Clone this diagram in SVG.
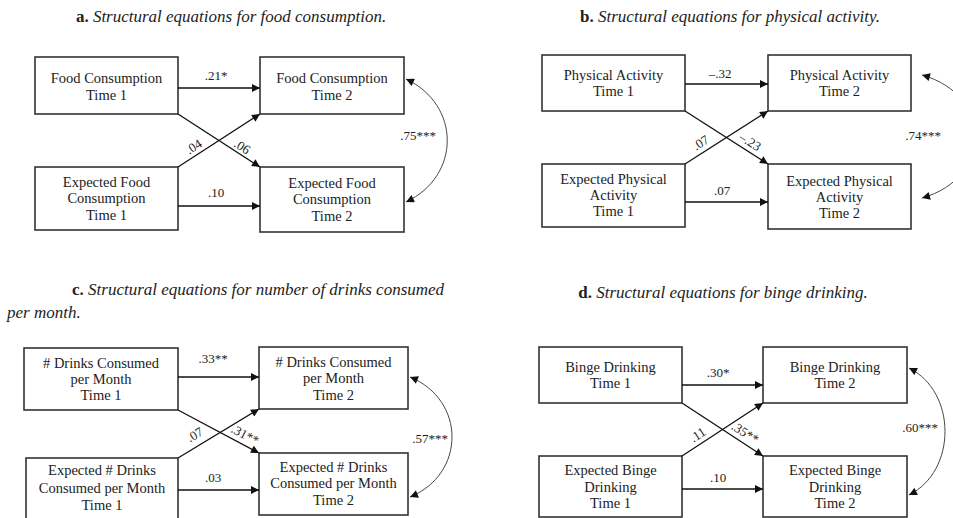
<svg xmlns="http://www.w3.org/2000/svg" width="953" height="518" viewBox="0 0 953 518">
<defs>
<marker id="ah" viewBox="0 0 10 10" refX="10" refY="5" markerWidth="10" markerHeight="8" markerUnits="userSpaceOnUse" orient="auto-start-reverse"><path d="M0,0 L10,5 L0,10 z" fill="#111"/></marker>
<style>
text{font-family:"Liberation Serif","Times New Roman",serif;fill:#222}
.t{font-size:17px}
.t .b{font-weight:bold}
.t .i{font-style:italic}
.n{font-size:14.5px;text-anchor:middle}
.l{font-size:13px;text-anchor:middle}
.box{fill:#fff;stroke:#333;stroke-width:1.6}
.ar{stroke:#111;stroke-width:1.3;fill:none;marker-end:url(#ah)}
.cv{stroke:#333;stroke-width:0.9;fill:none;marker-start:url(#ah);marker-end:url(#ah)}
</style>
</defs>
<rect width="953" height="518" fill="#fff"/>

<!-- titles -->
<text class="t" x="231" y="22" text-anchor="middle"><tspan class="b">a.</tspan><tspan class="i"> Structural equations for food consumption.</tspan></text>
<text class="t" x="730" y="22" text-anchor="middle"><tspan class="b">b.</tspan><tspan class="i"> Structural equations for physical activity.</tspan></text>
<text class="t" x="72" y="295"><tspan class="b">c.</tspan><tspan class="i"> Structural equations for number of drinks consumed</tspan></text>
<text class="t" x="7" y="318"><tspan class="i">per month.</tspan></text>
<text class="t" x="723" y="298" text-anchor="middle"><tspan class="b">d.</tspan><tspan class="i"> Structural equations for binge drinking.</tspan></text>

<!-- panel a nodes -->
<g id="a1"><rect class="box" x="35" y="57" width="143" height="57"/><text class="n" x="106.5" y="83">Food Consumption</text><text class="n" x="106.5" y="100">Time 1</text></g>
<g id="a2"><rect class="box" x="260" y="57" width="144" height="57"/><text class="n" x="332" y="83">Food Consumption</text><text class="n" x="332" y="100">Time 2</text></g>
<g id="a3"><rect class="box" x="35" y="167" width="143" height="63"/><text class="n" x="106.5" y="187">Expected Food</text><text class="n" x="106.5" y="203">Consumption</text><text class="n" x="106.5" y="220">Time 1</text></g>
<g id="a4"><rect class="box" x="260" y="167" width="144" height="65"/><text class="n" x="332" y="188">Expected Food</text><text class="n" x="332" y="204">Consumption</text><text class="n" x="332" y="221">Time 2</text></g>

<!-- panel b nodes -->
<g id="b1"><rect class="box" x="542" y="55" width="143" height="56"/><text class="n" x="613.5" y="80">Physical Activity</text><text class="n" x="613.5" y="96">Time 1</text></g>
<g id="b2"><rect class="box" x="768" y="55" width="143" height="56"/><text class="n" x="839.5" y="80">Physical Activity</text><text class="n" x="839.5" y="96">Time 2</text></g>
<g id="b3"><rect class="box" x="542" y="164" width="143" height="63"/><text class="n" x="613.5" y="184">Expected Physical</text><text class="n" x="613.5" y="200">Activity</text><text class="n" x="613.5" y="216">Time 1</text></g>
<g id="b4"><rect class="box" x="768" y="164" width="143" height="65"/><text class="n" x="839.5" y="186">Expected Physical</text><text class="n" x="839.5" y="202">Activity</text><text class="n" x="839.5" y="218">Time 2</text></g>

<!-- panel c nodes -->
<g id="c1"><rect class="box" x="24" y="348" width="154" height="62"/><text class="n" x="101" y="368">#  Drinks Consumed</text><text class="n" x="101" y="384">per Month</text><text class="n" x="101" y="400">Time 1</text></g>
<g id="c2"><rect class="box" x="259" y="347" width="149" height="62"/><text class="n" x="333.5" y="367">#  Drinks Consumed</text><text class="n" x="333.5" y="383">per Month</text><text class="n" x="333.5" y="400">Time 2</text></g>
<g id="c3"><rect class="box" x="26" y="458" width="152" height="70"/><text class="n" x="102" y="475">Expected # Drinks</text><text class="n" x="102" y="493">Consumed per Month</text><text class="n" x="102" y="510">Time 1</text></g>
<g id="c4"><rect class="box" x="259" y="453" width="149" height="62"/><text class="n" x="333.5" y="472">Expected # Drinks</text><text class="n" x="333.5" y="488">Consumed per Month</text><text class="n" x="333.5" y="505">Time 2</text></g>

<!-- panel d nodes -->
<g id="d1"><rect class="box" x="539" y="347" width="143" height="56"/><text class="n" x="610.5" y="372">Binge Drinking</text><text class="n" x="610.5" y="388">Time 1</text></g>
<g id="d2"><rect class="box" x="763" y="347" width="144" height="56"/><text class="n" x="835" y="372">Binge Drinking</text><text class="n" x="835" y="388">Time 2</text></g>
<g id="d3"><rect class="box" x="539" y="456" width="143" height="61"/><text class="n" x="610.5" y="475">Expected Binge</text><text class="n" x="610.5" y="492">Drinking</text><text class="n" x="610.5" y="508">Time 1</text></g>
<g id="d4"><rect class="box" x="763" y="456" width="144" height="61"/><text class="n" x="835" y="475">Expected Binge</text><text class="n" x="835" y="492">Drinking</text><text class="n" x="835" y="508">Time 2</text></g>

<!-- connectors -->
<g id="connectors">
<path class="ar" d="M178,88 L260,88"/>
<path class="ar" d="M178,206 L260,206"/>
<path class="ar" d="M178,114 L260,167"/>
<path class="ar" d="M178,167 L260,114"/>
<path class="cv" d="M406,79 C461,105 461,176 406,202"/>

<path class="ar" d="M685,84 L768,84"/>
<path class="ar" d="M685,202 L768,202"/>
<path class="ar" d="M685,111 L768,164"/>
<path class="ar" d="M685,164 L768,111"/>
<path class="cv" d="M922,75 C993,95 993,178 922,198"/>

<path class="ar" d="M178,377 L259,377"/>
<path class="ar" d="M178,490 L259,490"/>
<path class="ar" d="M178,410 L259,453"/>
<path class="ar" d="M178,458 L259,409"/>
<path class="cv" d="M410,377 C466,400 466,474 410,497"/>

<path class="ar" d="M682,385 L763,385"/>
<path class="ar" d="M682,489 L763,489"/>
<path class="ar" d="M682,403 L763,456"/>
<path class="ar" d="M682,456 L763,403"/>
<path class="cv" d="M909,368 C957,392 957,471 909,495"/>
</g>

<!-- labels -->
<g id="labels">
<text class="l" x="216" y="80">.21*</text>
<text class="l" x="216" y="197">.10</text>
<text class="l" transform="translate(194,147) rotate(-33)" x="0" y="4">.04</text>
<text class="l" transform="translate(242,147) rotate(33)" x="0" y="4">.06</text>
<text class="l" x="418" y="140">.75***</text>

<text class="l" x="720" y="78">–.32</text>
<text class="l" x="722" y="195">.07</text>
<text class="l" transform="translate(701,143) rotate(-33)" x="0" y="4">.07</text>
<text class="l" transform="translate(750,142) rotate(33)" x="0" y="4">–.23</text>
<text class="l" x="923" y="140">.74***</text>

<text class="l" x="213" y="363">.33**</text>
<text class="l" x="213" y="482">.03</text>
<text class="l" transform="translate(195,435) rotate(-31)" x="0" y="4">.07</text>
<text class="l" transform="translate(245,435) rotate(28)" x="0" y="4">.31**</text>
<text class="l" x="430" y="443">.57***</text>

<text class="l" x="718" y="377">.30*</text>
<text class="l" x="718" y="482">.10</text>
<text class="l" transform="translate(698,435) rotate(-33)" x="0" y="4">.11</text>
<text class="l" transform="translate(745,433) rotate(33)" x="0" y="4">.35**</text>
<text class="l" x="920" y="432">.60***</text>
</g>
</svg>
